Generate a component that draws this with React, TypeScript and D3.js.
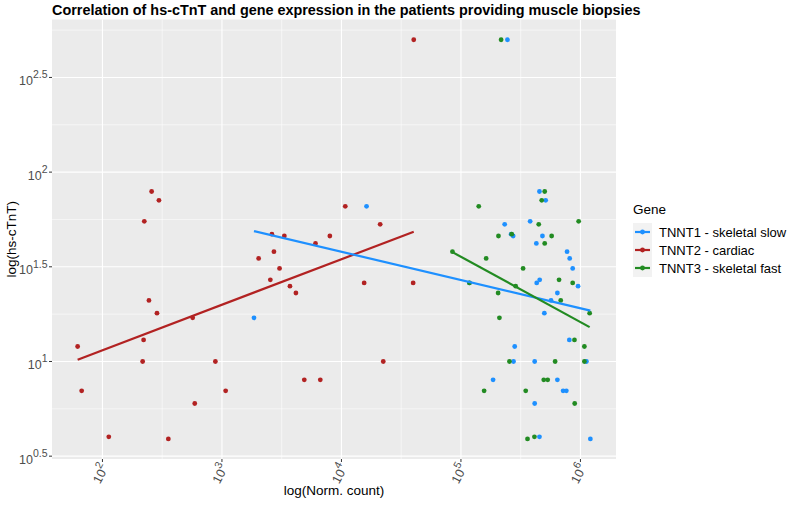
import React from "react";
import * as d3 from "d3";

// TNNT2 - cardiac
const redCount = [62, 67, 113, 258, 297, 224, 245, 286, 221, 217, 356, 569, 592, 881, 1074, 2028, 2618, 2723, 2541, 3034, 3327, 3707, 4159, 4887, 6653, 6067, 7998, 10765, 21086, 15488, 39811, 22387, 40272];
const redTnT = [12, 7, 4, 79, 71, 55, 21, 18, 13, 10, 3.9, 17, 6, 10, 7, 35, 47, 38, 27, 31, 46, 25, 23, 8, 8, 42, 46, 66, 53, 26, 26, 10, 500];

// TNNT1 - skeletal slow
const blueCount = [1854, 16218, 244906, 232274, 273527, 453942, 511682, 379315, 480839, 427563, 772681, 812831, 860994, 456037, 430512, 954993, 641210, 567545, 498884, 807235, 281838, 275423, 414000, 1122018, 185780, 641210, 716143, 762079, 414000, 453942, 1210598, 117761, 263027];
const blueTnT = [17, 66, 500, 53, 46, 79, 71, 55, 46, 42, 38, 35, 31, 27, 26, 25, 23, 21, 18, 13, 12, 10, 10, 10, 8, 8, 7, 7, 6, 4, 3.9, 26, 47];

// TNNT3 - skeletal fast
const greenCount = [216770, 140929, 84918, 162555, 206063, 266073, 447713, 502343, 474242, 502343, 574116, 966051, 331131, 662217, 860994, 287078, 204644, 683912, 1193988, 209894, 891251, 1078947, 254683, 613762, 1078947, 493174, 532108, 156315, 348337, 895365, 360579, 412098, 117761];
const greenTnT = [500, 66, 38, 35, 46, 47, 53, 79, 71, 42, 46, 55, 31, 27, 26, 25, 23, 21, 18, 17, 13, 12, 10, 10, 10, 8, 8, 7, 7, 6, 3.9, 4, 26];

const geneLabels = ["TNNT1 - skeletal slow", "TNNT2 - cardiac", "TNNT3 - skeletal fast"];
const geneColors = ["#1E90FF", "#B22222", "#228B22"];
const xTickExps = [2, 3, 4, 5, 6];
const yTickExps = ["0.5", "1", "1.5", "2", "2.5"];

const W = 800, H = 509;
const L = 52, R = 616, T = 19.5, B = 459;
const FONT = "'Liberation Sans', Arial, Helvetica, sans-serif";

function fit(xs: number[], ys: number[]) {
  const lx = xs.map(Math.log10), ly = ys.map(Math.log10);
  const mx = d3.mean(lx)!, my = d3.mean(ly)!;
  let sxy = 0, sxx = 0;
  lx.forEach((v, i) => { sxy += (v - mx) * (ly[i] - my); sxx += (v - mx) * (v - mx); });
  const b = sxy / sxx, a = my - b * mx;
  const x0 = d3.min(lx)!, x1 = d3.max(lx)!;
  return [[x0, a + b * x0], [x1, a + b * x1]];
}

export default function App() {
  const allX = [...redCount, ...blueCount, ...greenCount].map(Math.log10);
  const xmin = d3.min(allX)!, xmax = d3.max(allX)!;
  const xpad = (xmax - xmin) * 0.05;
  const x = d3.scaleLog().domain([10 ** (xmin - xpad), 10 ** (xmax + xpad)]).range([L, R]);
  const y = d3.scaleLog().domain([10 ** 0.485, 10 ** 2.806]).range([B, T]);

  const groups = [
    { xs: blueCount, ys: blueTnT, color: geneColors[0] },
    { xs: redCount, ys: redTnT, color: geneColors[1] },
    { xs: greenCount, ys: greenTnT, color: geneColors[2] },
  ];
  const drawOrder = [1, 0, 2];

  const xMinor = [1.5, 2.5, 3.5, 4.5, 5.5, 6.5].filter(e => 10 ** e >= x.domain()[0] && 10 ** e <= x.domain()[1]);
  const yMinor = [0.25, 0.75, 1.25, 1.75, 2.25, 2.75].filter(e => 10 ** e >= y.domain()[0] && 10 ** e <= y.domain()[1]);
  const line = d3.line<number[]>().x(p => x(10 ** p[0])).y(p => y(10 ** p[1]));

  return (
    <svg width={W} height={H} style={{ position: "fixed", left: 0, top: 0, background: "#fff" }} fontFamily={FONT}>
      <text x={52} y={14.5} fontSize={14.4} fontWeight="bold" fill="#000">
        Correlation of hs-cTnT and gene expression in the patients providing muscle biopsies
      </text>
      <rect x={L} y={T} width={R - L} height={B - T} fill="#EBEBEB" />
      {xMinor.map(e => (
        <line key={"xm" + e} x1={x(10 ** e)} x2={x(10 ** e)} y1={T} y2={B} stroke="#fff" strokeWidth={0.55} />
      ))}
      {yMinor.map(e => (
        <line key={"ym" + e} y1={y(10 ** e)} y2={y(10 ** e)} x1={L} x2={R} stroke="#fff" strokeWidth={0.55} />
      ))}
      {xTickExps.map(e => (
        <line key={"xM" + e} x1={x(10 ** e)} x2={x(10 ** e)} y1={T} y2={B} stroke="#fff" strokeWidth={1.1} />
      ))}
      {yTickExps.map(e => (
        <line key={"yM" + e} y1={y(10 ** +e)} y2={y(10 ** +e)} x1={L} x2={R} stroke="#fff" strokeWidth={1.1} />
      ))}
      {drawOrder.map(gi => {
        const g = groups[gi];
        return g.xs.map((v, i) => (
          <circle key={gi + "-" + i} cx={x(v)} cy={y(g.ys[i])} r={2.4} fill={g.color} />
        ));
      })}
      {drawOrder.map(gi => {
        const g = groups[gi];
        return <path key={"l" + gi} d={line(fit(g.xs, g.ys))!} stroke={g.color} strokeWidth={2.2} fill="none" />;
      })}
      {/* y axis */}
      {yTickExps.map(e => {
        const yy = y(10 ** +e);
        return (
          <g key={"yt" + e}>
            <line x1={L - 3} x2={L} y1={yy} y2={yy} stroke="#333" strokeWidth={1} />
            <text x={47.5} y={yy + 7.5} textAnchor="end" fontSize={12.5} fill="#4D4D4D">
              10<tspan dy={-6.5} fontSize={10.5}>{e}</tspan>
            </text>
          </g>
        );
      })}
      {xTickExps.map(e => {
        const xx = x(10 ** e);
        return (
          <g key={"xt" + e}>
            <line x1={xx} x2={xx} y1={B} y2={B + 3} stroke="#333" strokeWidth={1} />
            <g transform={`translate(${xx + 3},${B + 6}) rotate(-62)`}>
              <text x={0} y={0} dy="0.35em" textAnchor="end" fontSize={12.5} fill="#4D4D4D">
                10<tspan dy={-6.5} fontSize={10.5}>{e}</tspan>
              </text>
            </g>
          </g>
        );
      })}
      <text x={(L + R) / 2} y={495} textAnchor="middle" fontSize={13.5} fill="#000">log(Norm. count)</text>
      <text transform={`translate(16,${(T + B) / 2}) rotate(-90)`} textAnchor="middle" fontSize={13.5} fill="#000">log(hs-cTnT)</text>
      {/* legend */}
      <text x={633} y={214} fontSize={13.5} fill="#000">Gene</text>
      {geneLabels.map((lab, i) => {
        const cy = 232 + i * 18;
        return (
          <g key={lab}>
            <rect x={633} y={cy - 9} width={19} height={18} fill="#F2F2F2" />
            <line x1={635} x2={650} y1={cy} y2={cy} stroke={geneColors[i]} strokeWidth={2.2} />
            <circle cx={642.5} cy={cy} r={2.4} fill={geneColors[i]} />
            <text x={659} y={cy + 4.5} fontSize={13} fill="#000">{lab}</text>
          </g>
        );
      })}
    </svg>
  );
}
